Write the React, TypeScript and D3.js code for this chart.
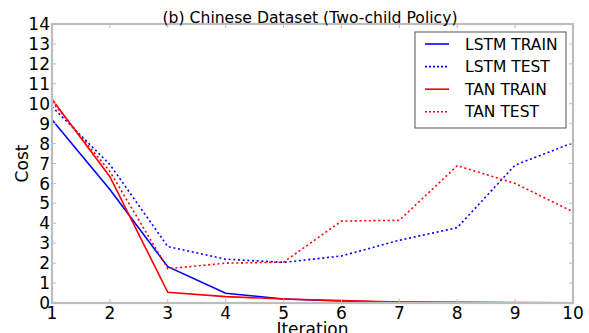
import React from "react";
import * as d3 from "d3";

const iterations = [1, 2, 3, 4, 5, 6, 7, 8, 9, 10];
const lstmTrain = [9.2, 5.7, 1.82, 0.49, 0.2, 0.1, 0.03, 0.02, 0.01, 0.01];
const lstmTest = [9.85, 6.95, 2.83, 2.2, 2.04, 2.36, 3.15, 3.78, 6.92, 8.04];
const tanTrain = [10.22, 6.34, 0.54, 0.32, 0.2, 0.12, 0.05, 0.03, 0.02, 0.01];
const tanTest = [10.1, 6.6, 1.72, 2.0, 2.05, 4.11, 4.15, 6.89, 6.0, 4.58];
const yTicks = [0, 1, 2, 3, 4, 5, 6, 7, 8, 9, 10, 11, 12, 13, 14];
const seriesNames = ["LSTM TRAIN", "LSTM TEST", "TAN TRAIN", "TAN TEST"];
const seriesColors = ["#0000ff", "#0000ff", "#ff0000", "#ff0000"];
const seriesDashed = [false, true, false, true];
const seriesData = [lstmTrain, lstmTest, tanTrain, tanTest];

const W = 589;
const H = 333;
const left = 52;
const right = 573;
const top = 24;
const bottom = 303;

export default function App() {
  const x = d3.scaleLinear().domain([1, 10]).range([left, right]);
  const y = d3.scaleLinear().domain([0, 14]).range([bottom, top]);
  const line = d3
    .line<number>()
    .x((_, i) => x(iterations[i]))
    .y((d) => y(d));
  const font = "'DejaVu Sans', sans-serif";
  const spine = "#bdbdbd";
  const tickLen = 4;
  return (
    <svg
      width={W}
      height={H}
      style={{ position: "absolute", left: 0, top: 0, background: "#fff" }}
      fontFamily={font}
    >
      <rect x={0} y={0} width={W} height={H} fill="#fff" />
      {/* lines */}
      {seriesData.map((d, i) => (
        <path
          key={i}
          d={line(d) || ""}
          fill="none"
          stroke={seriesColors[i]}
          strokeWidth={1.6}
          strokeDasharray={seriesDashed[i] ? "2,2.7" : undefined}
        />
      ))}
      {/* ticks */}
      {iterations.map((t) => (
        <g key={"xt" + t}>
          <line x1={x(t)} x2={x(t)} y1={bottom} y2={bottom - tickLen} stroke={spine} strokeWidth={1} />
          <line x1={x(t)} x2={x(t)} y1={top} y2={top + tickLen} stroke={spine} strokeWidth={1} />
          <text x={x(t)} y={bottom + 15.5} fontSize={17} textAnchor="middle" fill="#000">
            {t}
          </text>
        </g>
      ))}
      {yTicks.map((t) => (
        <g key={"yt" + t}>
          <line x1={left} x2={left + tickLen} y1={y(t)} y2={y(t)} stroke={spine} strokeWidth={1} />
          <line x1={right} x2={right - tickLen} y1={y(t)} y2={y(t)} stroke={spine} strokeWidth={1} />
          <text x={50} y={y(t)} dy="0.36em" fontSize={17} textAnchor="end" fill="#000">
            {t}
          </text>
        </g>
      ))}
      {/* frame */}
      <rect
        x={left}
        y={top}
        width={right - left}
        height={bottom - top}
        fill="none"
        stroke={spine}
        strokeWidth={2.2}
      />
      {/* title */}
      <text
        x={(left + right) / 2 - 2.5}
        y={22.5}
        fontSize={15.5}
        textAnchor="middle"
        fill="#000"
        textLength={295}
        lengthAdjust="spacingAndGlyphs"
      >
        (b) Chinese Dataset (Two-child Policy)
      </text>
      {/* axis labels */}
      <text
        transform={`translate(27.5, ${(top + bottom) / 2}) rotate(-90)`}
        fontSize={17}
        textAnchor="middle"
        fill="#000"
      >
        Cost
      </text>
      <text x={(left + right) / 2} y={335} fontSize={17} textAnchor="middle" fill="#000">
        Iteration
      </text>
      {/* legend */}
      <rect x={415} y={32} width={151} height={96} fill="#fff" stroke="#555" strokeWidth={1} />
      {seriesNames.map((n, i) => {
        const ly = 44 + i * 22.6;
        return (
          <g key={n}>
            <line
              x1={425}
              x2={449}
              y1={ly}
              y2={ly}
              stroke={seriesColors[i]}
              strokeWidth={1.6}
              strokeDasharray={seriesDashed[i] ? "2,2" : undefined}
            />
            <text x={465} y={ly} dy="0.36em" fontSize={15.5} fill="#000">
              {n}
            </text>
          </g>
        );
      })}
    </svg>
  );
}
